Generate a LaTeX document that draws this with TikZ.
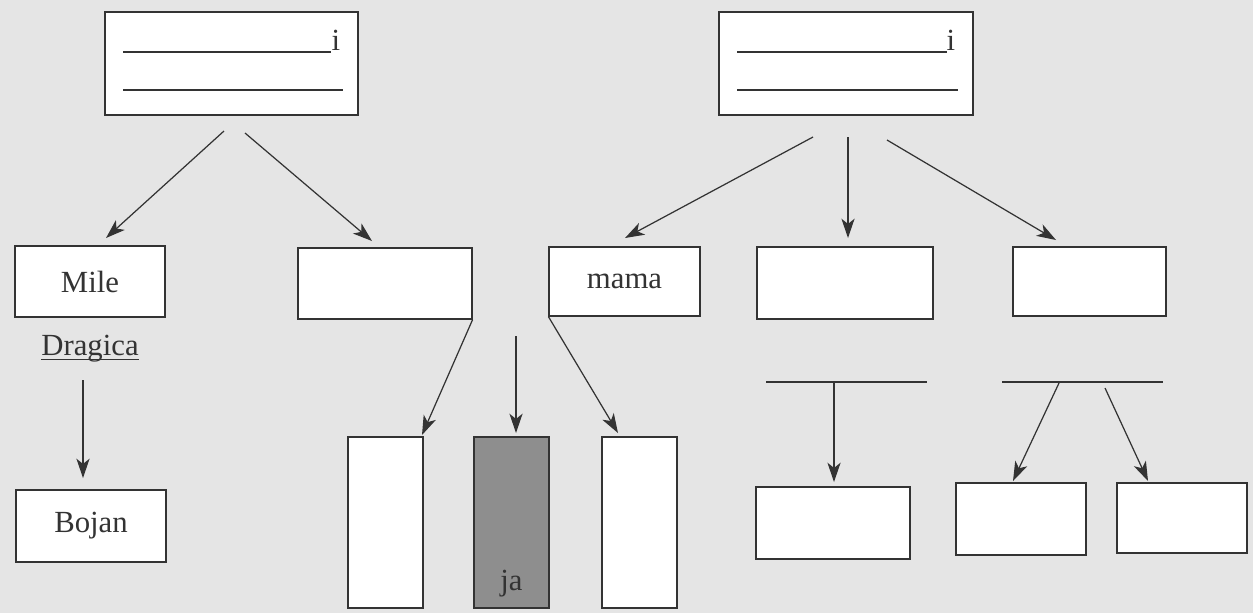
\documentclass[tikz,border=0pt]{standalone}
\usepackage{fontspec}
\setmainfont{Liberation Serif}
\usepackage{xcolor}
\usetikzlibrary{arrows.meta}
\definecolor{scan}{HTML}{E5E5E5}
\definecolor{ink}{HTML}{333333}
\definecolor{shade}{HTML}{8E8E8E}

\begin{document}
\begin{tikzpicture}[x=0.02cm, y=-0.02cm,
  box/.style={rectangle, draw=ink, fill=white, line width=0.7pt, inner sep=0pt,
    text=ink, font=\fontsize{17.5}{20}\selectfont},
  word/.style={text=ink, font=\fontsize{17.5}{20}\selectfont, inner sep=0pt, anchor=base},
  arr/.style={draw=ink, line width=0.7pt, -{Stealth[length=11pt, width=7.5pt, inset=3pt]}},
  rule/.style={draw=ink, line width=0.7pt}]
  \fill[scan] (0,0) rectangle (1253,613);
  \useasboundingbox (0,0) rectangle (1253,613);

  % top boxes with blank lines
  \node[box, minimum width=5.06cm, minimum height=2.06cm] (topL) at (231.5,63.5) {};
  \node[box, minimum width=5.08cm, minimum height=2.06cm] (topR) at (846,63.5) {};
  \draw[rule] (123,52) -- (331,52) (123,90) -- (343,90);
  \draw[rule] (737,52) -- (947,52) (737,90) -- (958,90);
  \node[word] (iL) at (336,50) {i};
  \node[word] (iR) at (951,50) {i};

  % second row
  \node[box, minimum width=3cm, minimum height=1.42cm] (mile) at (90,281.5) {Mile};
  \node[box, minimum width=3.48cm, minimum height=1.42cm] (blankA) at (385,283.5) {};
  \node[box, minimum width=3.02cm, minimum height=1.38cm] (mama) at (624.5,281.5) {mama};
  \node[box, minimum width=3.52cm, minimum height=1.44cm] (blankB) at (845,283) {};
  \node[box, minimum width=3.06cm, minimum height=1.38cm] (blankC) at (1089.5,281.5) {};

  \node[word] (dragica) at (90,355) {Dragica};
  \draw[ink, line width=0.6pt] ([yshift=-2.4pt]dragica.base west) -- ([yshift=-2.4pt]dragica.base east);

  % bottom row
  \node[box, minimum width=3cm, minimum height=1.44cm] (bojan) at (91,526) {Bojan};
  \node[box, minimum width=1.5cm, minimum height=3.42cm] (tallA) at (385.5,522.5) {};
  \node[box, fill=shade, minimum width=1.5cm, minimum height=3.42cm] (ja) at (511.5,522.5) {};
  \node[word] (jatext) at (511.5,590) {ja};
  \node[box, minimum width=1.5cm, minimum height=3.42cm] (tallC) at (639.5,522.5) {};
  \node[box, minimum width=3.08cm, minimum height=1.44cm] (blankF) at (833,523) {};
  \node[box, minimum width=2.6cm, minimum height=1.44cm] (blankG) at (1021,519) {};
  \node[box, minimum width=2.6cm, minimum height=1.4cm] (blankH) at (1182,518) {};

  % blank lines on the right
  \coordinate (lineL1) at (766,382);
  \coordinate (lineL2) at (927,382);
  \coordinate (lineR1) at (1002,382);
  \coordinate (lineR2) at (1163,382);
  \draw[rule] (lineL1) -- (lineL2);
  \draw[rule] (lineR1) -- (lineR2);

  % arrow ends
  \coordinate (tl1) at (224,131);
  \coordinate (tl2) at (245,133);
  \coordinate (toMile) at (106,238);
  \coordinate (toA) at (372,241);
  \coordinate (tr1) at (813,137);
  \coordinate (tr2) at (848,137);
  \coordinate (tr3) at (887,140);
  \coordinate (toMama) at (625,238);
  \coordinate (toB) at (848,238);
  \coordinate (toC) at (1056,240);
  \coordinate (dr1) at (83,380);
  \coordinate (toBojan) at (83,478);
  \coordinate (toTallA) at (422,435);
  \coordinate (ja1) at (516,336);
  \coordinate (toJa) at (516,433);
  \coordinate (toTallC) at (618,433);
  \coordinate (f1) at (834,382);
  \coordinate (toF) at (834,482);
  \coordinate (g1) at (1059,383);
  \coordinate (toG) at (1013,481);
  \coordinate (h1) at (1105,388);
  \coordinate (toH) at (1148,481);

  \draw[arr] (tl1) -- (toMile);
  \draw[arr] (tl2) -- (toA);
  \draw[arr] (tr1) -- (toMama);
  \draw[arr] (tr2) -- (toB);
  \draw[arr] (tr3) -- (toC);
  \draw[arr] (dr1) -- (toBojan);
  \draw[arr] (blankA.south east) -- (toTallA);
  \draw[arr] (ja1) -- (toJa);
  \draw[arr] (mama.south west) -- (toTallC);
  \draw[arr] (f1) -- (toF);
  \draw[arr] (g1) -- (toG);
  \draw[arr] (h1) -- (toH);
\end{tikzpicture}
\end{document}
